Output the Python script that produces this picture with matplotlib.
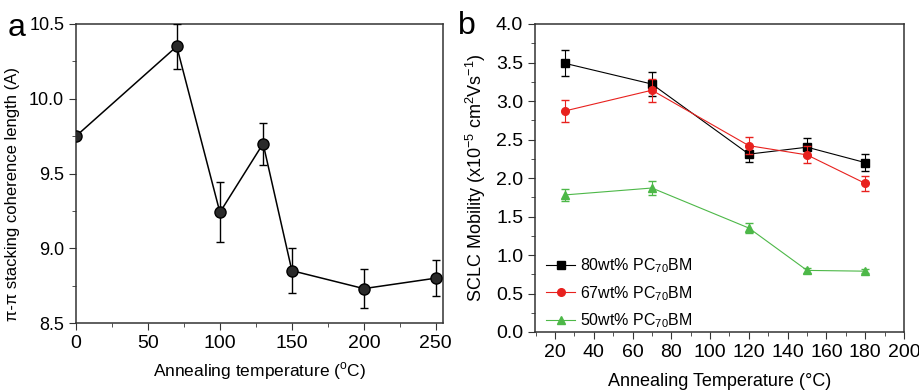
import numpy as np
import matplotlib.pyplot as plt
from matplotlib.ticker import MultipleLocator

plt.rcParams['font.family'] = ['Liberation Sans', 'DejaVu Sans']
plt.rcParams['mathtext.fontset'] = 'custom'
plt.rcParams['mathtext.rm'] = 'Liberation Sans'

# ---- panel a data ----
temp_a = [0, 70, 100, 130, 150, 200, 250]
coh_len = [9.75, 10.35, 9.24, 9.70, 8.85, 8.73, 8.80]
coh_err = [0.0, 0.15, 0.20, 0.14, 0.15, 0.13, 0.12]

# ---- panel b data ----
temp_b = [25, 70, 120, 150, 180]
mob_80 = [3.49, 3.22, 2.31, 2.40, 2.20]
err_80 = [0.17, 0.16, 0.10, 0.12, 0.11]
mob_67 = [2.87, 3.14, 2.42, 2.30, 1.93]
err_67 = [0.14, 0.15, 0.11, 0.11, 0.10]
mob_50 = [1.78, 1.87, 1.35, 0.80, 0.79]
err_50 = [0.08, 0.09, 0.06, 0.03, 0.03]

fig = plt.figure(figsize=(9.19, 3.92), dpi=100)
W, H = 919, 392
ax1 = fig.add_axes([76 / W, 1 - 323 / H, (443 - 76) / W, (323 - 24) / H])
ax2 = fig.add_axes([535 / W, 1 - 332 / H, (904 - 535) / W, (332 - 24) / H])

# ---- panel a ----
eb = ax1.errorbar(temp_a, coh_len, yerr=coh_err, color='black', lw=1.1,
                  marker='o', ms=8, mfc='#2a2a2a', mec='black', capsize=3,
                  elinewidth=1, capthick=1, zorder=3)
eb[0].set_clip_path(ax1.patch)
ax1.set_xlim(0, 255)
ax1.set_ylim(8.5, 10.5)
ax1.xaxis.set_major_locator(MultipleLocator(50))
ax1.xaxis.set_minor_locator(MultipleLocator(25))
ax1.yaxis.set_major_locator(MultipleLocator(0.5))
ax1.yaxis.set_minor_locator(MultipleLocator(0.25))
ax1.set_xlabel('Annealing temperature ($^{\\mathrm{o}}$C)', fontsize=12.5,
               labelpad=6)
ax1.set_ylabel('π-π stacking coherence length (A)', fontsize=12)
ax1.yaxis.set_label_coords(-0.153, 0.43)

# ---- panel b ----
series = [(mob_80, err_80, 'black', 's', '80wt% PC$_{70}$BM'),
          (mob_67, err_67, '#e8211e', 'o', '67wt% PC$_{70}$BM'),
          (mob_50, err_50, '#4db848', '^', '50wt% PC$_{70}$BM')]
for vals, errs, col, mk, lab in series:
    ax2.errorbar(temp_b, vals, yerr=errs, color=col, lw=0.8, fmt='none',
                 capsize=3, elinewidth=0.8)
    ax2.plot(temp_b, vals, color=col, lw=0.8, marker=mk, ms=5.5, label=lab)
ax2.set_xlim(9.7, 200)
ax2.set_ylim(0, 4.0)
ax2.xaxis.set_major_locator(MultipleLocator(20))
ax2.xaxis.set_minor_locator(MultipleLocator(10))
ax2.yaxis.set_major_locator(MultipleLocator(0.5))
ax2.yaxis.set_minor_locator(MultipleLocator(0.25))
ax2.set_xlabel('Annealing Temperature (°C)', fontsize=13, labelpad=9)
ax2.set_ylabel('SCLC Mobility (x10$^{-5}$ cm$^{2}$Vs$^{-1}$)', fontsize=13,
               labelpad=6)
ax2.legend(loc='lower left', bbox_to_anchor=(0.0, -0.03), frameon=False,
           fontsize=11.5, handlelength=1.8, borderaxespad=0.3,
           labelspacing=0.55, handletextpad=0.3)

for ax in (ax1, ax2):
    ax.tick_params(which='both', direction='out', top=False, right=False,
                   labelsize=14, color='#333333')
    ax.tick_params(which='major', length=5)
    ax.tick_params(which='minor', length=3)
    for s in ax.spines.values():
        s.set_linewidth(1.1)
        s.set_color('#333333')
ax1.tick_params(axis='y', labelsize=13)

fig.text(8 / W, 1 - 28 / H, 'a', fontsize=23, va='center')
fig.text(458 / W, 1 - 26 / H, 'b', fontsize=23, va='center')

fig.savefig('out.png', dpi=100)
